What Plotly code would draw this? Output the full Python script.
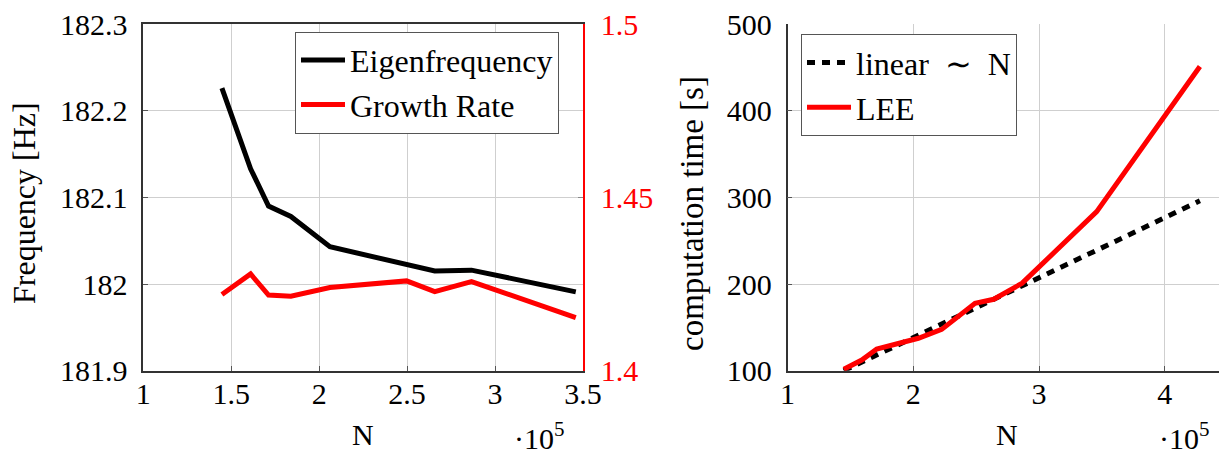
import plotly.graph_objects as go

# ---------------- data ----------------
# left plot (N in units of 1e5)
N_left = [1.447, 1.610, 1.712, 1.839, 2.061, 2.497, 2.657, 2.866, 3.459]
eigenfrequency = [182.226, 182.133, 182.090, 182.078, 182.043, 182.022, 182.015, 182.016, 181.991]
growth_rate = [1.4220, 1.4279, 1.4218, 1.4215, 1.4240, 1.4259, 1.4228, 1.4257, 1.4153]

# right plot
N_right = [1.447, 1.590, 1.709, 1.839, 2.040, 2.226, 2.491, 2.640, 2.866, 3.459, 4.280]
linear_time = [100, 110, 118, 127, 141, 154, 172, 182, 198, 239, 296]
lee_time = [101.6, 112.3, 125.0, 130.0, 137.4, 147.7, 177.7, 182.4, 201.0, 283.5, 451.0]

left_xticks = [1, 1.5, 2, 2.5, 3, 3.5]
left_xticktext = ["1", "1.5", "2", "2.5", "3", "3.5"]
left_yticks = [181.9, 182.0, 182.1, 182.2, 182.3]
left_yticktext = ["181.9", "182", "182.1", "182.2", "182.3"]
left_y2ticks = [1.4, 1.45, 1.5]
left_y2ticktext = ["1.4", "1.45", "1.5"]
right_xticks = [1, 2, 3, 4]
right_xticktext = ["1", "2", "3", "4"]
right_yticks = [100, 200, 300, 400, 500]
right_yticktext = ["100", "200", "300", "400", "500"]

# ---------------- figure ----------------
W, H = 1219, 455
FONT = "Times New Roman, Liberation Serif, serif"
FS = 30
GRID = "#cfcfcf"
AX = "#333333"

def px(x):
    return x / W

def py(y):
    return 1 - y / H

yd = [py(370.7), py(24)]

fig = go.Figure()

fig.add_trace(go.Scatter(x=N_left, y=eigenfrequency, mode="lines", name="Eigenfrequency",
                         line=dict(color="black", width=5), xaxis="x", yaxis="y", legend="legend"))
fig.add_trace(go.Scatter(x=N_left, y=growth_rate, mode="lines", name="Growth Rate",
                         line=dict(color="#ff0000", width=5), xaxis="x", yaxis="y2", legend="legend"))
fig.add_trace(go.Scatter(x=N_right, y=linear_time, mode="lines", name="linear &nbsp;∼&nbsp; N",
                         line=dict(color="black", width=5, dash="8px,7px"), xaxis="x2", yaxis="y3",
                         legend="legend2"))
fig.add_trace(go.Scatter(x=N_right, y=lee_time, mode="lines", name="LEE",
                         line=dict(color="#ff0000", width=5), xaxis="x2", yaxis="y3", legend="legend2"))

tickfont = dict(family=FONT, size=FS, color="black")

fig.update_layout(
    width=W, height=H,
    margin=dict(l=0, r=0, t=0, b=0, autoexpand=False),
    paper_bgcolor="white", plot_bgcolor="white",
    font=dict(family=FONT, size=FS, color="black"),
    xaxis=dict(domain=[px(143.3), px(583)], range=[1, 3.5], tickvals=left_xticks, ticktext=left_xticktext,
               showgrid=True, gridcolor=GRID, gridwidth=1, zeroline=False,
               showline=True, linecolor=AX, linewidth=1.5, mirror=True,
               ticks="inside", ticklen=5, tickcolor="#555", tickfont=tickfont, anchor="y",
               ticklabelstandoff=-4, automargin=False),
    yaxis=dict(domain=yd, range=[181.9, 182.3], tickvals=left_yticks, ticktext=left_yticktext,
               showgrid=True, gridcolor=GRID, gridwidth=1, zeroline=False,
               showline=True, linecolor=AX, linewidth=1.5,
               ticks="inside", ticklen=5, tickcolor="#555", tickfont=tickfont, anchor="x",
               ticklabelstandoff=8, automargin=False),
    yaxis2=dict(domain=yd, range=[1.4, 1.5], tickvals=left_y2ticks, ticktext=left_y2ticktext,
                overlaying="y", side="right", anchor="x",
                showgrid=False, zeroline=False,
                showline=True, linecolor="#ff0000", linewidth=1.5,
                ticks="inside", ticklen=5, tickcolor="#888",
                tickfont=dict(family=FONT, size=FS, color="#ff0000"),
                ticklabelstandoff=10, automargin=False),
    xaxis2=dict(domain=[px(787.6), 1.0], range=[1, 1 + (1219 - 787.6) / 125.7],
                tickvals=right_xticks, ticktext=right_xticktext,
                showgrid=True, gridcolor=GRID, gridwidth=1, zeroline=False,
                showline=True, linecolor=AX, linewidth=1.5,
                ticks="inside", ticklen=5, tickcolor="#555", tickfont=tickfont, anchor="y3",
                ticklabelstandoff=-4, automargin=False),
    yaxis3=dict(domain=yd, range=[100, 500], tickvals=right_yticks, ticktext=right_yticktext,
                showgrid=True, gridcolor=GRID, gridwidth=1, zeroline=False,
                showline=True, linecolor=AX, linewidth=1.5,
                ticks="inside", ticklen=5, tickcolor="#555", tickfont=tickfont, anchor="x2",
                ticklabelstandoff=8, automargin=False),
    legend=dict(x=px(295), y=py(31.7), xanchor="left", yanchor="top",
                bgcolor="white", bordercolor="#555", borderwidth=1, itemwidth=44,
                font=dict(family=FONT, size=32, color="black"), tracegroupgap=0),
    legend2=dict(x=px(801), y=py(34.3), xanchor="left", yanchor="top",
                 bgcolor="white", bordercolor="#555", borderwidth=1, itemwidth=44,
                 font=dict(family=FONT, size=32, color="black"), tracegroupgap=0),
    showlegend=True,
)

ann = [
    dict(text="N", x=px(363), y=py(434), xref="paper", yref="paper", showarrow=False,
         font=dict(family=FONT, size=FS), xanchor="center", yanchor="middle"),
    dict(text="N", x=px(1007), y=py(434), xref="paper", yref="paper", showarrow=False,
         font=dict(family=FONT, size=FS), xanchor="center", yanchor="middle"),
    dict(text="·10<sup>5</sup>", x=px(512), y=py(436), xref="paper", yref="paper", showarrow=False,
         font=dict(family=FONT, size=FS), xanchor="left", yanchor="middle"),
    dict(text="·10<sup>5</sup>", x=px(1157), y=py(436), xref="paper", yref="paper", showarrow=False,
         font=dict(family=FONT, size=FS), xanchor="left", yanchor="middle"),
    dict(text="Frequency [Hz]", x=px(24), y=py(203), xref="paper", yref="paper", showarrow=False,
         textangle=-90, font=dict(family=FONT, size=32), xanchor="center", yanchor="middle"),
    dict(text="computation time [s]", x=px(692), y=py(214), xref="paper", yref="paper", showarrow=False,
         textangle=-90, font=dict(family=FONT, size=33), xanchor="center", yanchor="middle"),
]
fig.update_layout(annotations=ann)

fig.write_html("out.html", config={"displayModeBar": False},
               post_script="document.body.style.margin='0';document.body.style.overflow='hidden';")
